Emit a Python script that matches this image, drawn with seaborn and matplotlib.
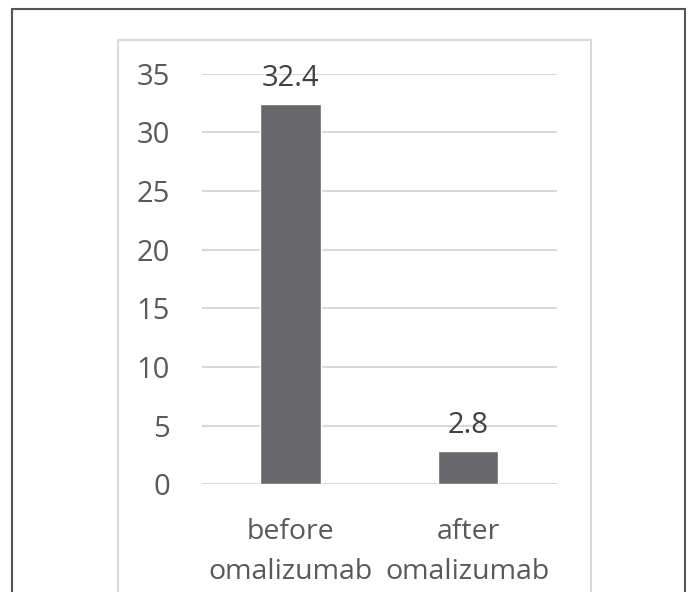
import numpy as np
import pandas as pd
import seaborn as sns
import matplotlib.pyplot as plt
from matplotlib.lines import Line2D

# values
groups = ['before\nomalizumab', 'after\nomalizumab']
values = [32.4, 2.8]
value_labels = ['32.4', '2.8']
y_ticks = [0, 5, 10, 15, 20, 25, 30, 35]

df = pd.DataFrame({'group': groups, 'value': values})

sns.set_theme(style='white')
plt.rcParams['font.family'] = ['Open Sans', 'DejaVu Sans']

fig = plt.figure(figsize=(6.88, 5.92), dpi=100)
ax = fig.add_axes([0.2932, 0.1819, 0.516, 0.6936])

sns.barplot(data=df, x='group', y='value', color='#68686b', saturation=1,
            width=0.34, ax=ax, zorder=3)

ax.set_ylim(0, 35)
ax.set_xlim(-0.5, 1.5)
ax.set_yticks(y_ticks)
ax.yaxis.grid(True, color='#d9d9d9', linewidth=1.5, zorder=0)
ax.set_axisbelow(True)
for s in ax.spines.values():
    s.set_visible(False)
ax.set_xlabel('')
ax.set_ylabel('')
ax.tick_params(axis='y', length=0, pad=23, labelsize=21, labelcolor='#595959')
ax.tick_params(axis='x', length=0, pad=24, labelsize=20.5, labelcolor='#595959')
for lbl in ax.get_xticklabels():
    lbl.set_linespacing(1.6)

for i, (v, t) in enumerate(zip(values, value_labels)):
    ax.annotate(t, (i, v), xytext=(0, 8), textcoords='offset points',
                ha='center', va='bottom', fontsize=21, color='#404040')

# light chart-area frame
x0, x1, yt = 118 / 688, 591 / 688, 1 - 40 / 592
for xs, ys in [([x0, x0], [0, yt]), ([x0, x1], [yt, yt]), ([x1, x1], [yt, 0])]:
    fig.add_artist(Line2D(xs, ys, color='#d9d9d9', linewidth=1.5,
                          transform=fig.transFigure))

# outer dark frame
x0, x1, yt = 12.3 / 688, 684.5 / 688, 1 - 9 / 592
for xs, ys in [([x0, x0], [0, yt]), ([x0, x1], [yt, yt]), ([x1, x1], [yt, 0])]:
    fig.add_artist(Line2D(xs, ys, color='#555555', linewidth=1.5,
                          transform=fig.transFigure))

fig.savefig('out.png', dpi=100)
